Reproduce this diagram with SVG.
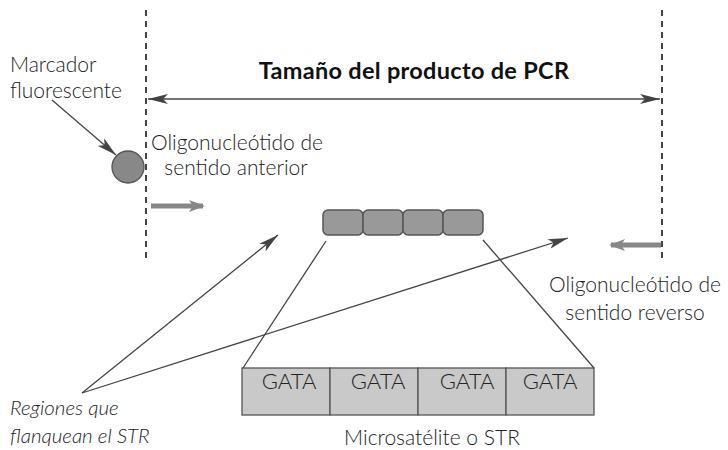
<svg xmlns="http://www.w3.org/2000/svg" width="728" height="450" viewBox="0 0 728 450">
<style>
text{font-family:Lato,"Open Sans","Liberation Sans",sans-serif;font-weight:300;font-size:21px;fill:#222}
.b{font-weight:700;font-size:23.5px;fill:#111;letter-spacing:0.3px}
.i{font-style:italic;font-size:20.5px}
.g{font-size:22px}
.dash{stroke:#444;stroke-width:2;stroke-dasharray:6,5;fill:none}
.thin{stroke:#444;stroke-width:1.3;fill:none}
.gray{stroke:#888;stroke-width:5;fill:none}
.blk{fill:#999;stroke:#555;stroke-width:1.5}
.cell{fill:#c9c9c9;stroke:#555;stroke-width:1.3}
</style>
<defs>
<marker id="ah" viewBox="0 0 20 10" refX="20" refY="5" markerWidth="20" markerHeight="10" markerUnits="userSpaceOnUse" orient="auto-start-reverse"><path d="M0,0 L20,5 L0,10 L5,5 Z" fill="#444"/></marker>
<marker id="gh" viewBox="0 0 16 12" refX="14" refY="6" markerWidth="16" markerHeight="12" markerUnits="userSpaceOnUse" orient="auto"><path d="M0,0 L16,6 L0,12 L4,6 Z" fill="#888"/></marker>
</defs>
<g id="guides">
<line class="dash" x1="146" y1="10" x2="146" y2="262"/>
<line class="dash" x1="662" y1="10" x2="662" y2="260"/>
</g>
<g id="title"><text class="b" x="414" y="79" text-anchor="middle">Tamaño del producto de PCR</text></g>
<g id="marcador">
<text x="10" y="72">Marcador</text>
<text x="10" y="98">fluorescente</text>
</g>
<g id="circle"><circle cx="128" cy="167" r="16" fill="#888" stroke="#555" stroke-width="1.3"/></g>
<g id="anterior">
<text x="237" y="150" text-anchor="middle">Oligonucleótido de</text>
<text x="236" y="175" text-anchor="middle">sentido anterior</text>
</g>
<g id="reverso">
<text x="635" y="292" text-anchor="middle">Oligonucleótido de</text>
<text x="635" y="320" text-anchor="middle">sentido reverso</text>
</g>
<g id="str-small">
<rect class="blk" x="323" y="210" width="40" height="25" rx="5"/>
<rect class="blk" x="363" y="210" width="40" height="25" rx="5"/>
<rect class="blk" x="403" y="210" width="40" height="25" rx="5"/>
<rect class="blk" x="443" y="210" width="40" height="25" rx="5"/>
</g>
<g id="str-big">
<rect class="cell" x="242" y="368" width="88" height="47"/>
<rect class="cell" x="330" y="368" width="88" height="47"/>
<rect class="cell" x="418" y="368" width="88" height="47"/>
<rect class="cell" x="506" y="368" width="88" height="47"/>
<text class="g" x="289" y="389" text-anchor="middle">GATA</text>
<text class="g" x="378" y="389" text-anchor="middle">GATA</text>
<text class="g" x="467" y="389" text-anchor="middle">GATA</text>
<text class="g" x="550" y="389" text-anchor="middle">GATA</text>
<text x="432" y="445" text-anchor="middle">Microsatélite o STR</text>
</g>
<g id="regiones">
<text class="i" x="10" y="415">Regiones que</text>
<text class="i" x="10" y="443">flanquean el STR</text>
</g>
<g id="connectors">
<line class="thin" x1="148" y1="99" x2="660" y2="99" marker-start="url(#ah)" marker-end="url(#ah)"/>
<line class="thin" x1="52" y1="100" x2="116" y2="155" marker-end="url(#ah)"/>
<line class="gray" x1="151" y1="206" x2="203" y2="206" marker-end="url(#gh)"/>
<line class="gray" x1="661" y1="245" x2="611" y2="245" marker-end="url(#gh)"/>
<line class="thin" x1="326" y1="241" x2="243" y2="368"/>
<line class="thin" x1="483" y1="240" x2="594" y2="368"/>
<line class="thin" x1="82" y1="393" x2="278" y2="235" marker-end="url(#ah)"/>
<line class="thin" x1="82" y1="393" x2="568" y2="238" marker-end="url(#ah)"/>
</g>
</svg>
